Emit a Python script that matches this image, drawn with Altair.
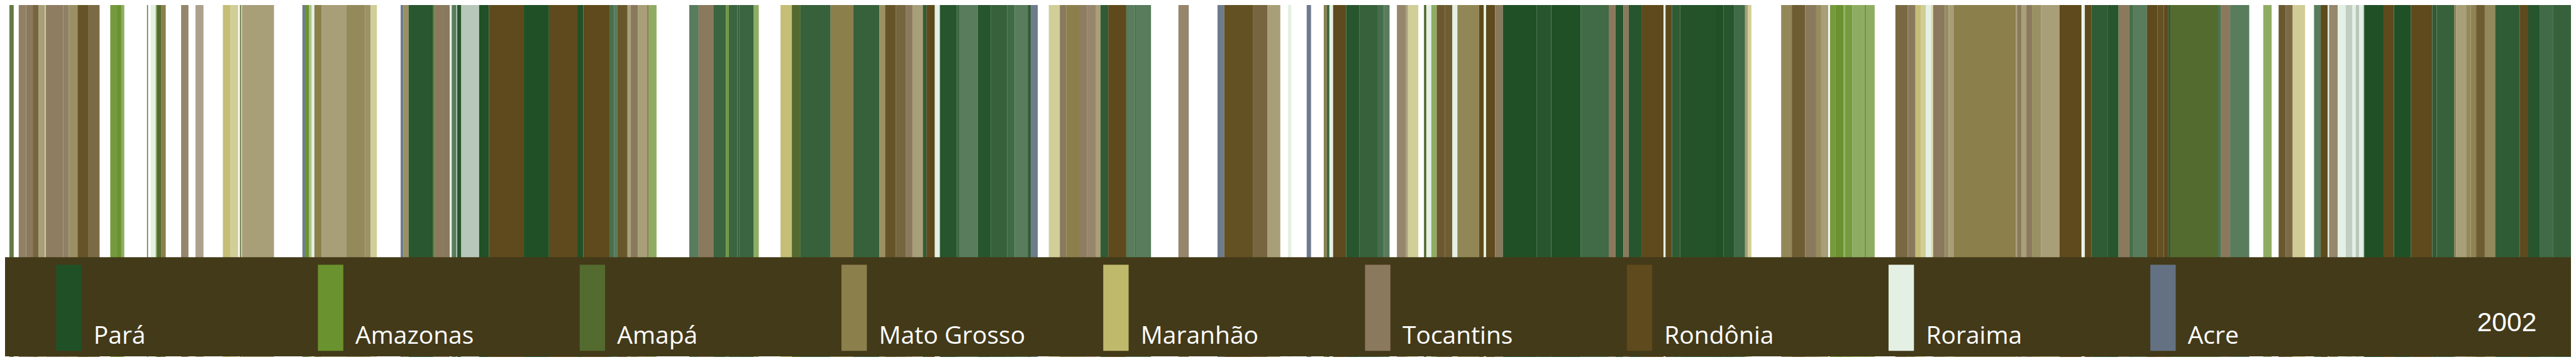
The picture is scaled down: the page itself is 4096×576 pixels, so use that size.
import altair as alt
import pandas as pd

# ---------------- data ----------------
state_codes = ["PA", "AM", "AP", "MT", "MA", "TO", "RO", "RR", "AC"]
state_names = ["Pará", "Amazonas", "Amapá", "Mato Grosso", "Maranhão",
               "Tocantins", "Rondônia", "Roraima", "Acre"]
state_colors = ["#205026", "#6a922e", "#546b2f", "#8b7f4c", "#bfb96c",
                "#8a795c", "#5e4a1c", "#e4f0e3", "#637183"]

year_label = ["2002"]

# stripes along the timeline (0 .. 7680 units)
stripe_start = [
    13, 41, 63, 83, 100, 119, 122, 174, 191, 217, 250, 315, 335, 348, 425, 436, 451, 454, 467,
    527, 570, 652, 675, 703, 709, 890, 898, 910, 918, 926, 947, 1022, 1078, 1094, 1184, 1192, 1208,
    1280, 1286, 1310, 1331, 1337, 1353, 1365, 1419, 1448, 1553, 1628, 1713, 1731, 1809, 1823, 1832,
    1863, 1872, 1894, 1922, 1927, 2048, 2076, 2120, 2158, 2166, 2192, 2198, 2241, 2321, 2355, 2381,
    2471, 2539,
    2617, 2634, 2666, 2697, 2716, 2747, 2758, 2783, 2798, 2849, 2857, 2911, 2951, 2999, 3022, 3061,
    3070, 3124, 3157, 3176, 3215, 3239, 3264, 3279, 3302, 3356, 3382, 3386, 3512, 3629, 3649, 3736,
    3778,
    3840, 3896, 3947, 3956, 3964, 3975, 4014, 4054, 4109, 4127, 4166, 4193, 4199, 4247, 4254, 4269,
    4285, 4310, 4332, 4347, 4412, 4426, 4433, 4460, 4483, 4584, 4628, 4716, 4800, 4820, 4844, 4860,
    4898, 4964, 4970, 4989, 5014,
    5120, 5143, 5176, 5208, 5216, 5316, 5348, 5388, 5421, 5436, 5462, 5478, 5503, 5507, 5529, 5565,
    5570, 5658, 5695, 5718, 5734, 5749, 5765, 5771, 5806, 5817, 5832, 6018, 6022, 6035, 6050, 6067,
    6094, 6149, 6218, 6225, 6245, 6293, 6326, 6358, 6368,
    6411, 6442, 6461, 6475, 6481, 6624, 6633, 6660, 6759, 6805, 6826, 6847, 6911, 6931, 6952, 6956,
    6982, 7006, 7026, 7036, 7046, 7058, 7061, 7119, 7150, 7201, 7265, 7278, 7331, 7336, 7366, 7380,
    7396, 7422, 7453, 7527, 7552, 7586, 7627,
]
stripe_end = [
    26, 63, 83, 100, 119, 122, 174, 191, 217, 250, 283, 335, 348, 357, 428, 451, 454, 467, 481,
    549, 594, 675, 698, 707, 805, 898, 910, 918, 926, 947, 1022, 1078, 1094, 1113, 1192, 1208, 1280,
    1286, 1310, 1331, 1337, 1351, 1365, 1419, 1448, 1553, 1628, 1713, 1731, 1809, 1823, 1832, 1863,
    1872, 1894, 1922, 1927, 1950, 2076, 2120, 2158, 2166, 2192, 2198, 2241, 2256, 2355, 2381, 2471,
    2539, 2617,
    2634, 2666, 2697, 2716, 2747, 2758, 2783, 2798, 2849, 2857, 2911, 2951, 2999, 3022, 3061, 3070,
    3091, 3157, 3176, 3215, 3239, 3264, 3279, 3302, 3356, 3382, 3386, 3430, 3543, 3649, 3736, 3778,
    3817,
    3850, 3909, 3956, 3964, 3975, 4014, 4054, 4109, 4127, 4144, 4193, 4199, 4230, 4254, 4269, 4285,
    4310, 4332, 4347, 4412, 4426, 4433, 4460, 4483, 4584, 4628, 4716, 4800, 4820, 4844, 4860, 4898,
    4964, 4970, 4989, 5014, 5120,
    5143, 5176, 5208, 5216, 5227, 5348, 5388, 5421, 5436, 5457, 5478, 5503, 5507, 5529, 5565, 5570,
    5596, 5695, 5718, 5734, 5749, 5765, 5771, 5806, 5817, 5832, 6018, 6022, 6035, 6050, 6067, 6094,
    6149, 6215, 6225, 6245, 6293, 6326, 6358, 6368, 6411,
    6442, 6461, 6475, 6481, 6624, 6633, 6660, 6717, 6784, 6826, 6847, 6884, 6931, 6952, 6956, 6982,
    7006, 7026, 7036, 7046, 7058, 7061, 7119, 7150, 7201, 7265, 7278, 7331, 7336, 7366, 7380, 7396,
    7422, 7453, 7527, 7552, 7586, 7627, 7680,
]
stripe_state = [
    "AP", "TO", "TO", "RO", "MT", "MA", "TO", "TO", "MT", "RO", "RO", "AM", "AM", "AM", "AP", "RR", "AM", "AP", "MT",
    "TO", "TO", "MA", "MA", "AP", "MT", "AC", "AM", "AM", "RR", "MT", "MT", "MT", "MT", "MA", "AC", "MT", "PA",
    "AP", "TO", "TO", "RR", "PA", "PA", "PA", "PA", "RO", "PA", "RO", "PA", "RO", "PA", "PA", "RO",
    "MT", "TO", "MT", "MT", "AM", "PA", "TO", "PA", "AM", "PA", "PA", "PA", "AM", "MA", "AP", "PA",
    "MT", "PA",
    "MT", "RO", "RO", "TO", "MT", "PA", "RO", "RR", "PA", "PA", "PA", "PA", "PA", "PA", "PA", "PA",
    "AC", "MA", "TO", "MT", "TO", "TO", "MT", "PA", "RO", "PA", "PA", "PA", "TO", "AC", "RO", "RO",
    "MT",
    "RR", "AC", "MT", "PA", "RR", "RO", "PA", "PA", "PA", "PA", "TO", "MT", "MA", "AP", "RR", "AM",
    "RO", "RO", "RR", "MT", "RO", "RR", "RO", "TO", "PA", "PA", "PA", "PA", "TO", "PA", "TO", "PA",
    "RO", "RR", "RO", "PA", "PA",
    "PA", "PA", "PA", "MT", "MA", "MT", "RO", "TO", "MT", "MT", "AM", "AM", "AM", "AM", "AM", "AM",
    "AM", "RO", "TO", "MA", "MA", "RR", "MA", "TO", "MT", "MT", "MT", "MT", "TO", "MT", "TO", "MT",
    "MT", "RO", "RR", "RO", "PA", "PA", "TO", "PA", "PA",
    "RO", "RO", "RO", "PA", "AP", "PA", "TO", "PA", "AM", "RO", "RO", "MA", "PA", "RO", "RR", "TO",
    "RR", "PA", "RR", "PA", "RR", "PA", "PA", "RO", "PA", "RO", "PA", "PA", "MT", "MT", "MT", "MT",
    "RO", "MT", "PA", "RO", "PA", "PA", "PA",
]
stripe_alpha = [
    0.9, 0.95, 1.0, 0.85, 0.75, 0.7, 0.97, 0.95, 0.87, 0.95, 0.82, 0.93, 1.0, 0.75, 0.9, 1.0, 0.75, 1.0, 1.0,
    0.9, 0.7, 0.93, 0.7, 0.9, 0.75, 0.93, 1.0, 0.55, 1.0, 1.0, 0.75, 0.92, 0.85, 0.7, 0.93, 0.88, 0.96,
    0.9, 1.0, 1.0, 1.0, 0.75, 0.97, 0.32, 1.0, 1.0, 1.0, 1.0, 1.0, 1.0, 0.82, 0.75, 0.93,
    0.75, 1.0, 0.75, 1.0, 0.75, 0.75, 1.0, 0.88, 0.95, 0.88, 0.9, 0.88, 0.75, 0.93, 1.0, 0.9,
    1.0, 0.9,
    0.87, 0.95, 0.85, 1.0, 0.75, 0.93, 1.0, 1.0, 0.97, 0.88, 0.75, 0.97, 0.9, 0.85, 0.75, 0.93,
    0.93, 0.7, 1.0, 1.0, 0.97, 0.9, 0.75, 0.93, 1.0, 0.75, 0.86, 0.75, 0.9, 0.93, 0.97, 0.85,
    0.75,
    1.0, 0.93, 1.0, 0.88, 1.0, 1.0, 0.97, 0.9, 0.83, 0.75, 0.9, 0.75, 0.7, 1.0, 1.0, 0.75,
    0.92, 0.9, 1.0, 0.95, 1.0, 1.0, 1.0, 1.0, 1.0, 0.97, 1.0, 0.85, 1.0, 0.97, 1.0, 0.97,
    1.0, 1.0, 1.0, 0.93, 0.98,
    1.0, 0.97, 0.85, 0.75, 0.7, 0.93, 0.9, 1.0, 0.9, 0.75, 0.93, 1.0, 0.77, 0.92, 0.75, 0.97,
    0.75, 0.83, 1.0, 0.93, 0.72, 1.0, 0.55, 1.0, 0.9, 0.75, 1.0, 0.75, 1.0, 0.75, 1.0, 0.87,
    0.75, 1.0, 1.0, 1.0, 0.93, 0.97, 1.0, 0.83, 0.75,
    1.0, 0.97, 1.0, 0.93, 1.0, 0.8, 1.0, 0.75, 0.75, 0.92, 0.82, 0.72, 0.75, 1.0, 1.0, 0.9,
    1.0, 0.28, 1.0, 0.32, 1.0, 0.32, 1.0, 1.0, 1.0, 1.0, 0.93, 0.9, 1.0, 0.75, 0.92, 0.97,
    0.9, 0.93, 0.93, 1.0, 0.97, 0.85, 0.9,
]

# ---------------- layout ----------------
W, H = 4080, 560
SX = W / 7680
SY = H / 1080

code_to_name = dict(zip(state_codes, state_names))
stripes = pd.DataFrame({
    "start": stripe_start,
    "end": stripe_end,
    "state": [code_to_name[c] for c in stripe_state],
    "alpha": stripe_alpha,
})
legend_df = pd.DataFrame({"state": state_names, "idx": list(range(len(state_names)))})
year_df = pd.DataFrame({"year": year_label})
band_df = pd.DataFrame({"k": [0]})

color_scale = alt.Scale(domain=state_names, range=state_colors)

stripe_layer = alt.Chart(stripes).mark_rect().encode(
    x=alt.X("start:Q", scale=alt.Scale(domain=[0, 7680], nice=False, zero=False), axis=None),
    x2="end:Q",
    y=alt.value(0),
    y2=alt.value(H),
    color=alt.Color("state:N", scale=color_scale, legend=None),
    opacity=alt.Opacity("alpha:Q", scale=None, legend=None),
)

band_layer = alt.Chart(band_df).mark_rect(color="#433a19").encode(
    x=alt.value(0), x2=alt.value(W),
    y=alt.value(774 * SY), y2=alt.value(1078 * SY),
)

leg_scale = alt.Scale(domain=[0, 8], range=[153 * SX, (153 + 8 * 783.5) * SX], nice=False, zero=False)
sw_w = 76 / 783.5

legend_rects = alt.Chart(legend_df).transform_calculate(
    idx2=f"datum.idx + {sw_w}"
).mark_rect().encode(
    x=alt.X("idx:Q", scale=leg_scale, axis=None),
    x2="idx2:Q",
    y=alt.value(797 * SY), y2=alt.value(1061 * SY),
    color=alt.Color("state:N", scale=color_scale, legend=None),
)

legend_text = alt.Chart(legend_df).mark_text(
    align="left", baseline="alphabetic", dx=112 * SX,
    font="Open Sans", fontSize=39, color="white",
).encode(
    x=alt.X("idx:Q", scale=leg_scale, axis=None),
    y=alt.value(1040 * SY),
    text="state:N",
)

year_text = alt.Chart(year_df).mark_text(
    align="right", baseline="alphabetic",
    font="Liberation Sans", fontSize=42.5, color="white",
).encode(
    x=alt.value(7577 * SX),
    y=alt.value(1000 * SY),
    text="year:N",
)

chart = alt.layer(
    stripe_layer, band_layer, legend_rects, legend_text, year_text
).resolve_scale(x="independent").properties(
    width=W, height=H,
    autosize=alt.AutoSizeParams(type="none"),
    padding=0,
    background="white",
).configure_view(stroke=None)

chart.save("out.html", embed_options={"renderer": "svg", "actions": False})
